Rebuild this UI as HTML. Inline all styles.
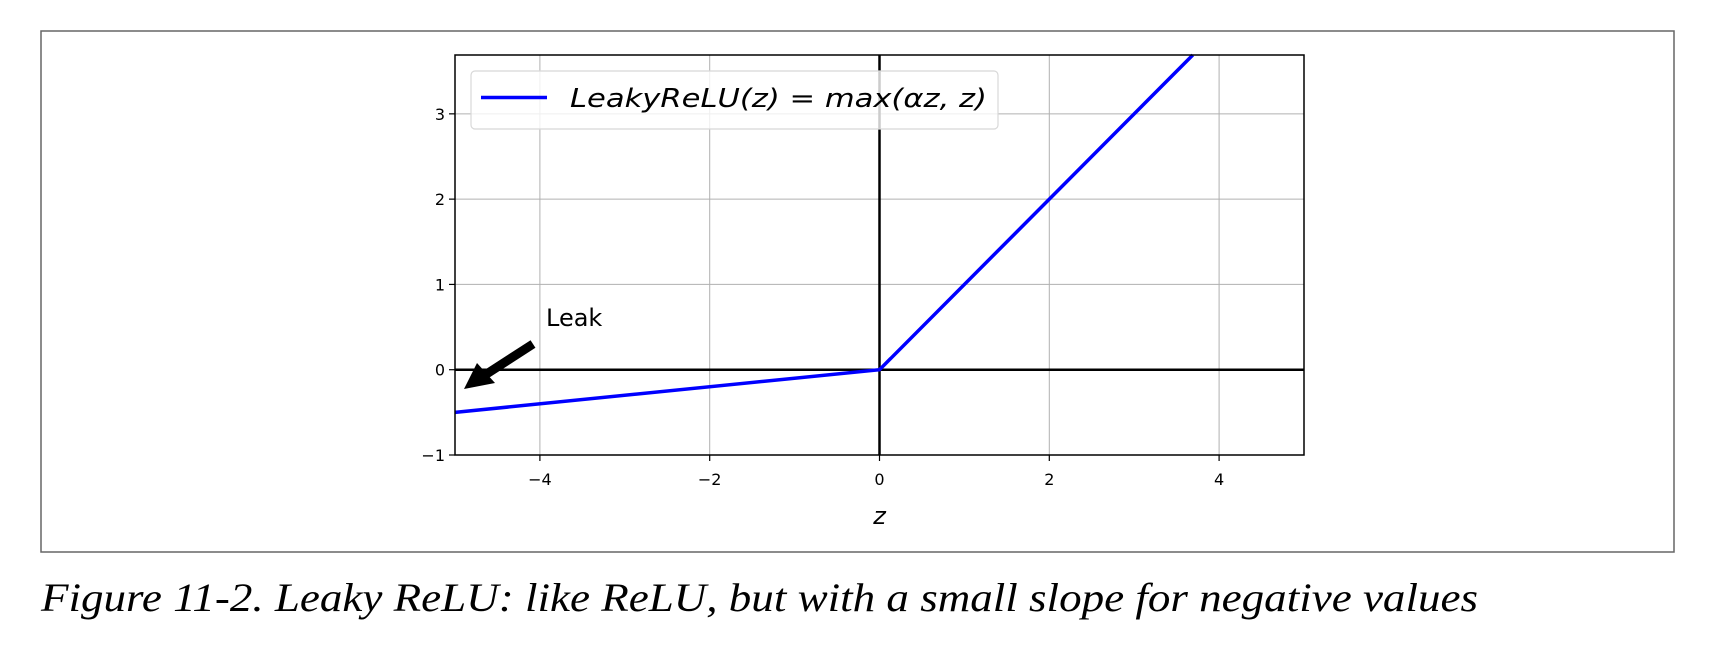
<!DOCTYPE html>
<html><head><meta charset="utf-8"><style>
html,body{margin:0;padding:0;background:#fff;width:1714px;height:656px;overflow:hidden}
svg text{font-family:"DejaVu Sans","Liberation Sans",sans-serif}
</style></head><body>
<svg id="chart" width="1714" height="656" viewBox="0 0 1714 656" xmlns="http://www.w3.org/2000/svg">
<rect x="41" y="31" width="1633" height="521" fill="#fff" stroke="#666" stroke-width="1.5"/>
<g id="plot"></g>
<text x="41" y="611" font-family="Liberation Serif, serif" font-style="italic" font-size="40" textLength="1437" lengthAdjust="spacingAndGlyphs" fill="#000" style="font-family:'Liberation Serif',serif">Figure 11-2. Leaky ReLU: like ReLU, but with a small slope for negative values</text>
</svg>
<script>
const xTicks=[-4,-2,0,2,4];
const yTicks=[-1,0,1,2,3];
const zValues=[-5,0,3.69];
const alpha=0.1;
const xMin=-5,xMax=5,yMin=-1,yMax=3.69;
const L=455,R=1304,T=55,B=455;
const sx=v=>L+(v-xMin)/(xMax-xMin)*(R-L);
const sy=v=>B-(v-yMin)/(yMax-yMin)*(B-T);
const NS="http://www.w3.org/2000/svg";
const g=document.getElementById('plot');
function mk(t,a){const e=document.createElementNS(NS,t);for(const k in a)e.setAttribute(k,a[k]);g.appendChild(e);return e;}
xTicks.forEach(v=>{
 const l=mk('line',{x1:sx(v),x2:sx(v),y1:T,y2:B,stroke:'#b0b0b0','stroke-width':1});
 
 
 const t=mk('line',{x1:sx(v),x2:sx(v),y1:B,y2:B+6,stroke:'#000','stroke-width':1.2});
 
 
 const tx=mk('text',{x:sx(v),y:B+30,'text-anchor':'middle','font-size':16,fill:'#000'});
 tx.textContent=(v<0?'\u2212'+Math.abs(v):v);
 
 
});
yTicks.forEach(v=>{
 const l=mk('line',{x1:L,x2:R,y1:sy(v),y2:sy(v),stroke:'#b0b0b0','stroke-width':1});
 
 
 const t=mk('line',{x1:L-6,x2:L,y1:sy(v),y2:sy(v),stroke:'#000','stroke-width':1.2});
 
 
 const tx=mk('text',{x:L-10,y:sy(v)+6,'text-anchor':'end','font-size':16,fill:'#000'});
 tx.textContent=(v<0?'\u2212'+Math.abs(v):v);
 
 
});
const ax=mk('line',{x1:L,x2:R,y1:sy(0),y2:sy(0),stroke:'#000','stroke-width':2.5});


const ay=mk('line',{x1:sx(0),x2:sx(0),y1:T,y2:B,stroke:'#000','stroke-width':2.5});


const pts=zValues.map(z=>sx(z)+','+sy(Math.max(alpha*z,z))).join(' ');
const pl=mk('polyline',{points:pts,fill:'none',stroke:'#0000ff','stroke-width':3.5});


const fr=mk('rect',{x:L,y:T,width:R-L,height:B-T,fill:'none',stroke:'#000','stroke-width':1.5});


const lg=mk('rect',{x:471,y:71,width:527,height:58,rx:4,fill:'rgba(255,255,255,0.8)',stroke:'#d8d8d8','stroke-width':1.2});


const ll=mk('line',{x1:481,x2:547,y1:97.5,y2:97.5,stroke:'#0000ff','stroke-width':3.5});


const lt=mk('text',{x:570,y:107,'font-size':26,'font-style':'italic',fill:'#000',textLength:417,lengthAdjust:'spacingAndGlyphs'});
lt.textContent='LeakyReLU(z) = max(\u03b1z, z)';


const lk=mk('text',{x:546,y:326,'font-size':24,fill:'#000'});
lk.textContent='Leak';


const ar=mk('line',{x1:533,y1:344,x2:485,y2:375,stroke:'#000','stroke-width':9});


const ah=mk('polygon',{points:'464,389 477,363 495,383',fill:'#000'});


const xl=mk('text',{x:sx(0),y:524,'text-anchor':'middle','font-size':24,'font-style':'italic',fill:'#000'});
xl.textContent='z';


</script>
</body></html>
